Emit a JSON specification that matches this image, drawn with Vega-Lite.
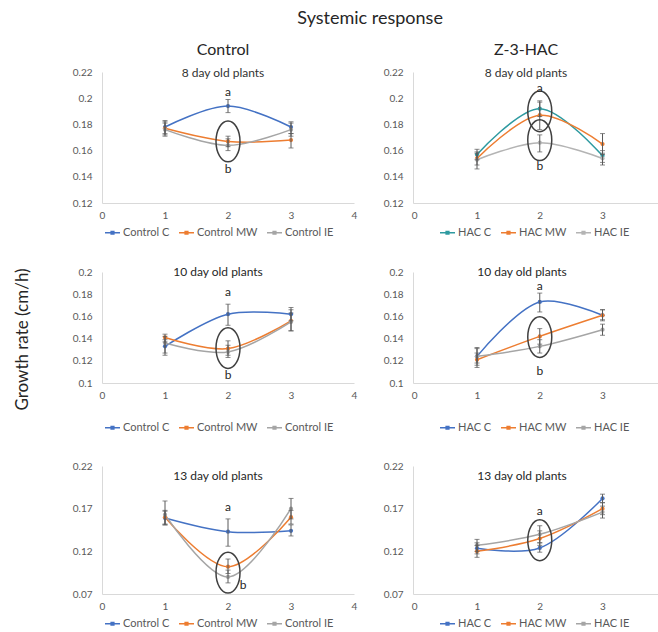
{
  "$schema": "https://vega.github.io/schema/vega-lite/v6.json",
  "background": "white",
  "padding": {"left": 13, "top": 10, "right": 0, "bottom": 0},
  "title": {"text": "Systemic response", "fontSize": 18, "offset": 14, "anchor": "middle", "dx": 34, "color": "#262626", "fontWeight": "normal", "font": "Lato"},
  "datasets": {
    "series": [
      {"panel": "p1", "series": "Control C", "day": 1, "rate": 0.178, "lo": 0.173, "hi": 0.183},
      {"panel": "p1", "series": "Control C", "day": 2, "rate": 0.194, "lo": 0.189, "hi": 0.199},
      {"panel": "p1", "series": "Control C", "day": 3, "rate": 0.178, "lo": 0.173, "hi": 0.182},
      {"panel": "p1", "series": "Control MW", "day": 1, "rate": 0.177, "lo": 0.172, "hi": 0.182},
      {"panel": "p1", "series": "Control MW", "day": 2, "rate": 0.167, "lo": 0.163, "hi": 0.171},
      {"panel": "p1", "series": "Control MW", "day": 3, "rate": 0.168, "lo": 0.162, "hi": 0.173},
      {"panel": "p1", "series": "Control IE", "day": 1, "rate": 0.176, "lo": 0.171, "hi": 0.181},
      {"panel": "p1", "series": "Control IE", "day": 2, "rate": 0.164, "lo": 0.160, "hi": 0.169},
      {"panel": "p1", "series": "Control IE", "day": 3, "rate": 0.176, "lo": 0.171, "hi": 0.181},
      {"panel": "p2", "series": "HAC C", "day": 1, "rate": 0.157, "lo": 0.153, "hi": 0.161},
      {"panel": "p2", "series": "HAC C", "day": 2, "rate": 0.192, "lo": 0.186, "hi": 0.198},
      {"panel": "p2", "series": "HAC C", "day": 3, "rate": 0.156, "lo": 0.151, "hi": 0.160},
      {"panel": "p2", "series": "HAC MW", "day": 1, "rate": 0.154, "lo": 0.149, "hi": 0.159},
      {"panel": "p2", "series": "HAC MW", "day": 2, "rate": 0.187, "lo": 0.176, "hi": 0.197},
      {"panel": "p2", "series": "HAC MW", "day": 3, "rate": 0.165, "lo": 0.157, "hi": 0.173},
      {"panel": "p2", "series": "HAC IE", "day": 1, "rate": 0.153, "lo": 0.146, "hi": 0.158},
      {"panel": "p2", "series": "HAC IE", "day": 2, "rate": 0.166, "lo": 0.159, "hi": 0.172},
      {"panel": "p2", "series": "HAC IE", "day": 3, "rate": 0.154, "lo": 0.149, "hi": 0.158},
      {"panel": "p3", "series": "Control C", "day": 1, "rate": 0.133, "lo": 0.127, "hi": 0.139},
      {"panel": "p3", "series": "Control C", "day": 2, "rate": 0.162, "lo": 0.152, "hi": 0.171},
      {"panel": "p3", "series": "Control C", "day": 3, "rate": 0.162, "lo": 0.156, "hi": 0.168},
      {"panel": "p3", "series": "Control MW", "day": 1, "rate": 0.141, "lo": 0.137, "hi": 0.144},
      {"panel": "p3", "series": "Control MW", "day": 2, "rate": 0.131, "lo": 0.125, "hi": 0.138},
      {"panel": "p3", "series": "Control MW", "day": 3, "rate": 0.156, "lo": 0.147, "hi": 0.166},
      {"panel": "p3", "series": "Control IE", "day": 1, "rate": 0.136, "lo": 0.125, "hi": 0.142},
      {"panel": "p3", "series": "Control IE", "day": 2, "rate": 0.128, "lo": 0.123, "hi": 0.134},
      {"panel": "p3", "series": "Control IE", "day": 3, "rate": 0.155, "lo": 0.147, "hi": 0.163},
      {"panel": "p4", "series": "HAC C", "day": 1, "rate": 0.124, "lo": 0.118, "hi": 0.131},
      {"panel": "p4", "series": "HAC C", "day": 2, "rate": 0.173, "lo": 0.164, "hi": 0.181},
      {"panel": "p4", "series": "HAC C", "day": 3, "rate": 0.161, "lo": 0.157, "hi": 0.166},
      {"panel": "p4", "series": "HAC MW", "day": 1, "rate": 0.121, "lo": 0.114, "hi": 0.127},
      {"panel": "p4", "series": "HAC MW", "day": 2, "rate": 0.142, "lo": 0.135, "hi": 0.149},
      {"panel": "p4", "series": "HAC MW", "day": 3, "rate": 0.161, "lo": 0.156, "hi": 0.166},
      {"panel": "p4", "series": "HAC IE", "day": 1, "rate": 0.124, "lo": 0.116, "hi": 0.132},
      {"panel": "p4", "series": "HAC IE", "day": 2, "rate": 0.133, "lo": 0.127, "hi": 0.139},
      {"panel": "p4", "series": "HAC IE", "day": 3, "rate": 0.148, "lo": 0.143, "hi": 0.153},
      {"panel": "p5", "series": "Control C", "day": 1, "rate": 0.159, "lo": 0.151, "hi": 0.167},
      {"panel": "p5", "series": "Control C", "day": 2, "rate": 0.143, "lo": 0.126, "hi": 0.158},
      {"panel": "p5", "series": "Control C", "day": 3, "rate": 0.144, "lo": 0.138, "hi": 0.151},
      {"panel": "p5", "series": "Control MW", "day": 1, "rate": 0.160, "lo": 0.152, "hi": 0.168},
      {"panel": "p5", "series": "Control MW", "day": 2, "rate": 0.102, "lo": 0.094, "hi": 0.111},
      {"panel": "p5", "series": "Control MW", "day": 3, "rate": 0.160, "lo": 0.152, "hi": 0.168},
      {"panel": "p5", "series": "Control IE", "day": 1, "rate": 0.163, "lo": 0.151, "hi": 0.179},
      {"panel": "p5", "series": "Control IE", "day": 2, "rate": 0.090, "lo": 0.083, "hi": 0.098},
      {"panel": "p5", "series": "Control IE", "day": 3, "rate": 0.170, "lo": 0.158, "hi": 0.182},
      {"panel": "p6", "series": "HAC C", "day": 1, "rate": 0.1235, "lo": 0.117, "hi": 0.130},
      {"panel": "p6", "series": "HAC C", "day": 2, "rate": 0.124, "lo": 0.119, "hi": 0.130},
      {"panel": "p6", "series": "HAC C", "day": 3, "rate": 0.182, "lo": 0.177, "hi": 0.187},
      {"panel": "p6", "series": "HAC MW", "day": 1, "rate": 0.120, "lo": 0.113, "hi": 0.127},
      {"panel": "p6", "series": "HAC MW", "day": 2, "rate": 0.135, "lo": 0.127, "hi": 0.144},
      {"panel": "p6", "series": "HAC MW", "day": 3, "rate": 0.170, "lo": 0.163, "hi": 0.177},
      {"panel": "p6", "series": "HAC IE", "day": 1, "rate": 0.127, "lo": 0.120, "hi": 0.134},
      {"panel": "p6", "series": "HAC IE", "day": 2, "rate": 0.140, "lo": 0.130, "hi": 0.150},
      {"panel": "p6", "series": "HAC IE", "day": 3, "rate": 0.166, "lo": 0.159, "hi": 0.173}
    ],
    "notes": [
      {"panel": "p1", "kind": "ellipse", "day": 2, "val": 0.167, "label": ""},
      {"panel": "p1", "kind": "letter", "day": 2, "val": 0.205, "label": "a"},
      {"panel": "p1", "kind": "letter", "day": 2, "val": 0.146, "label": "b"},
      {"panel": "p2", "kind": "ellipse", "day": 2, "val": 0.190, "label": ""},
      {"panel": "p2", "kind": "ellipse", "day": 2, "val": 0.168, "label": ""},
      {"panel": "p2", "kind": "letter", "day": 2, "val": 0.208, "label": "a"},
      {"panel": "p2", "kind": "letter", "day": 2, "val": 0.148, "label": "b"},
      {"panel": "p3", "kind": "ellipse", "day": 2, "val": 0.1315, "label": ""},
      {"panel": "p3", "kind": "letter", "day": 2, "val": 0.182, "label": "a"},
      {"panel": "p3", "kind": "letter", "day": 2, "val": 0.107, "label": "b"},
      {"panel": "p4", "kind": "ellipse", "day": 2, "val": 0.1414, "label": ""},
      {"panel": "p4", "kind": "letter", "day": 2, "val": 0.187, "label": "a"},
      {"panel": "p4", "kind": "letter", "day": 2, "val": 0.1105, "label": "b"},
      {"panel": "p5", "kind": "ellipse", "day": 2, "val": 0.095, "label": ""},
      {"panel": "p5", "kind": "letter", "day": 2, "val": 0.1715, "label": "a"},
      {"panel": "p5", "kind": "letter", "day": 2.24, "val": 0.0805, "label": "b"},
      {"panel": "p6", "kind": "ellipse", "day": 2, "val": 0.133, "label": ""},
      {"panel": "p6", "kind": "letter", "day": 2, "val": 0.167, "label": "a"}
    ]
  },
  "columns": 2,
  "align": "each",
  "spacing": {"row": 28, "column": 26},
  "resolve": {"scale": {"color": "independent", "x": "independent", "y": "independent"}, "legend": {"color": "independent"}},
  "concat": [
    {
      "width": 252, "height": 131,
      "title": {"text": "Control", "subtitle": "8 day old plants", "fontSize": 16, "subtitleFontSize": 12, "subtitlePadding": 10, "offset": -12, "dx": -5},
      "layer": [
        {"data": {"name": "series"}, "transform": [{"filter": "datum.panel == 'p1'"}],
         "mark": {"type": "line", "interpolate": "catmull-rom", "strokeWidth": 1.5},
         "encoding": {
           "x": {"field": "day", "type": "quantitative", "scale": {"domain": [0, 4], "nice": false}, "axis": {"values": [0, 1, 2, 3, 4], "format": "d", "title": null}},
           "y": {"field": "rate", "type": "quantitative", "scale": {"domain": [0.12, 0.22], "nice": false}, "axis": {"values": [0.12, 0.14, 0.16, 0.18, 0.2, 0.22], "format": "~g", "title": null}},
           "color": {"field": "series", "type": "nominal", "scale": {"domain": ["Control C", "Control MW", "Control IE"], "range": ["#4472C4", "#ED7D31", "#A5A5A5"]}, "legend": {"title": null, "legendX": 2, "legendY": 152}}
         }},
        {"data": {"name": "series"}, "transform": [{"filter": "datum.panel == 'p1'"}],
         "mark": {"type": "point", "filled": true, "size": 18, "opacity": 1},
         "encoding": {
           "x": {"field": "day", "type": "quantitative", "axis": {"values": [0, 1, 2, 3, 4], "format": "d", "title": null}},
           "y": {"field": "rate", "type": "quantitative", "axis": {"values": [0.12, 0.14, 0.16, 0.18, 0.2, 0.22], "format": "~g", "title": null}},
           "color": {"field": "series", "type": "nominal"}}},
        {"data": {"name": "series"}, "transform": [{"filter": "datum.panel == 'p1'"}],
         "mark": {"type": "errorbar", "color": "#595959", "thickness": 1, "ticks": {"size": 5}},
         "encoding": {
           "x": {"field": "day", "type": "quantitative", "axis": {"values": [0, 1, 2, 3, 4], "format": "d", "title": null}},
           "y": {"field": "lo", "type": "quantitative", "axis": {"values": [0.12, 0.14, 0.16, 0.18, 0.2, 0.22], "format": "~g", "title": null}},
           "y2": {"field": "hi"}}},
        {"data": {"name": "notes"}, "transform": [{"filter": "datum.panel == 'p1' && datum.kind == 'ellipse'"}],
         "mark": {"type": "point", "shape": "M0,-1.7A1,1.7 0 1,1 0,1.7A1,1.7 0 1,1 0,-1.7Z", "size": 576, "filled": false, "stroke": "#404040", "strokeWidth": 1.5, "opacity": 1},
         "encoding": {
           "x": {"field": "day", "type": "quantitative", "axis": {"values": [0, 1, 2, 3, 4], "format": "d", "title": null}},
           "y": {"field": "val", "type": "quantitative", "axis": {"values": [0.12, 0.14, 0.16, 0.18, 0.2, 0.22], "format": "~g", "title": null}}}},
        {"data": {"name": "notes"}, "transform": [{"filter": "datum.panel == 'p1' && datum.kind == 'letter'"}],
         "mark": {"type": "text", "fontSize": 12, "color": "#262626"},
         "encoding": {
           "x": {"field": "day", "type": "quantitative", "axis": {"values": [0, 1, 2, 3, 4], "format": "d", "title": null}},
           "y": {"field": "val", "type": "quantitative", "axis": {"values": [0.12, 0.14, 0.16, 0.18, 0.2, 0.22], "format": "~g", "title": null}},
           "text": {"field": "label"}}}
      ]
    },
    {
      "width": 246, "height": 131,
      "title": {"text": "Z-3-HAC", "subtitle": "8 day old plants", "fontSize": 16, "subtitleFontSize": 12, "subtitlePadding": 10, "offset": -12, "dx": -10},
      "layer": [
        {"data": {"name": "series"}, "transform": [{"filter": "datum.panel == 'p2'"}],
         "mark": {"type": "line", "interpolate": "catmull-rom", "strokeWidth": 1.5},
         "encoding": {
           "x": {"field": "day", "type": "quantitative", "scale": {"domain": [-0.02, 3.9], "nice": false, "zero": false}, "axis": {"values": [0, 1, 2, 3], "format": "d", "title": null}},
           "y": {"field": "rate", "type": "quantitative", "scale": {"domain": [0.12, 0.22], "nice": false}, "axis": {"values": [0.12, 0.14, 0.16, 0.18, 0.2, 0.22], "format": "~g", "title": null}},
           "color": {"field": "series", "type": "nominal", "scale": {"domain": ["HAC C", "HAC MW", "HAC IE"], "range": ["#2E9AA0", "#ED7D31", "#B4B4B4"]}, "legend": {"title": null, "legendX": 26, "legendY": 152}}
         }},
        {"data": {"name": "series"}, "transform": [{"filter": "datum.panel == 'p2'"}],
         "mark": {"type": "point", "filled": true, "size": 18, "opacity": 1},
         "encoding": {
           "x": {"field": "day", "type": "quantitative", "axis": {"values": [0, 1, 2, 3], "format": "d", "title": null}},
           "y": {"field": "rate", "type": "quantitative", "axis": {"values": [0.12, 0.14, 0.16, 0.18, 0.2, 0.22], "format": "~g", "title": null}},
           "color": {"field": "series", "type": "nominal"}}},
        {"data": {"name": "series"}, "transform": [{"filter": "datum.panel == 'p2'"}],
         "mark": {"type": "errorbar", "color": "#595959", "thickness": 1, "ticks": {"size": 5}},
         "encoding": {
           "x": {"field": "day", "type": "quantitative", "axis": {"values": [0, 1, 2, 3], "format": "d", "title": null}},
           "y": {"field": "lo", "type": "quantitative", "axis": {"values": [0.12, 0.14, 0.16, 0.18, 0.2, 0.22], "format": "~g", "title": null}},
           "y2": {"field": "hi"}}},
        {"data": {"name": "notes"}, "transform": [{"filter": "datum.panel == 'p2' && datum.kind == 'ellipse'"}],
         "mark": {"type": "point", "shape": "M0,-1.7A1,1.7 0 1,1 0,1.7A1,1.7 0 1,1 0,-1.7Z", "size": 576, "filled": false, "stroke": "#404040", "strokeWidth": 1.5, "opacity": 1},
         "encoding": {
           "x": {"field": "day", "type": "quantitative", "axis": {"values": [0, 1, 2, 3], "format": "d", "title": null}},
           "y": {"field": "val", "type": "quantitative", "axis": {"values": [0.12, 0.14, 0.16, 0.18, 0.2, 0.22], "format": "~g", "title": null}}}},
        {"data": {"name": "notes"}, "transform": [{"filter": "datum.panel == 'p2' && datum.kind == 'letter'"}],
         "mark": {"type": "text", "fontSize": 12, "color": "#262626"},
         "encoding": {
           "x": {"field": "day", "type": "quantitative", "axis": {"values": [0, 1, 2, 3], "format": "d", "title": null}},
           "y": {"field": "val", "type": "quantitative", "axis": {"values": [0.12, 0.14, 0.16, 0.18, 0.2, 0.22], "format": "~g", "title": null}},
           "text": {"field": "label"}}}
      ]
    },
    {
      "width": 252, "height": 111,
      "title": {"text": "10 day old plants", "fontSize": 12, "offset": -12, "dx": -10},
      "layer": [
        {"data": {"name": "series"}, "transform": [{"filter": "datum.panel == 'p3'"}],
         "mark": {"type": "line", "interpolate": "catmull-rom", "strokeWidth": 1.5},
         "encoding": {
           "x": {"field": "day", "type": "quantitative", "scale": {"domain": [0, 4], "nice": false}, "axis": {"values": [0, 1, 2, 3, 4], "format": "d", "title": null}},
           "y": {"field": "rate", "type": "quantitative", "scale": {"domain": [0.1, 0.2], "nice": false}, "axis": {"values": [0.1, 0.12, 0.14, 0.16, 0.18, 0.2], "format": "~g", "title": "Growth rate (cm/h)", "titleFontSize": 17, "titleFontWeight": "normal", "titleColor": "#262626", "titlePadding": 41, "titleY": 67}},
           "color": {"field": "series", "type": "nominal", "scale": {"domain": ["Control C", "Control MW", "Control IE"], "range": ["#4472C4", "#ED7D31", "#A5A5A5"]}, "legend": {"title": null, "legendX": 2, "legendY": 147}}
         }},
        {"data": {"name": "series"}, "transform": [{"filter": "datum.panel == 'p3'"}],
         "mark": {"type": "point", "filled": true, "size": 18, "opacity": 1},
         "encoding": {
           "x": {"field": "day", "type": "quantitative", "axis": {"values": [0, 1, 2, 3, 4], "format": "d", "title": null}},
           "y": {"field": "rate", "type": "quantitative", "axis": {"values": [0.1, 0.12, 0.14, 0.16, 0.18, 0.2], "format": "~g", "title": "Growth rate (cm/h)", "titleFontSize": 17, "titleFontWeight": "normal", "titleColor": "#262626", "titlePadding": 41, "titleY": 67}},
           "color": {"field": "series", "type": "nominal"}}},
        {"data": {"name": "series"}, "transform": [{"filter": "datum.panel == 'p3'"}],
         "mark": {"type": "errorbar", "color": "#595959", "thickness": 1, "ticks": {"size": 5}},
         "encoding": {
           "x": {"field": "day", "type": "quantitative", "axis": {"values": [0, 1, 2, 3, 4], "format": "d", "title": null}},
           "y": {"field": "lo", "type": "quantitative", "axis": {"values": [0.1, 0.12, 0.14, 0.16, 0.18, 0.2], "format": "~g", "title": "Growth rate (cm/h)", "titleFontSize": 17, "titleFontWeight": "normal", "titleColor": "#262626", "titlePadding": 41, "titleY": 67}},
           "y2": {"field": "hi"}}},
        {"data": {"name": "notes"}, "transform": [{"filter": "datum.panel == 'p3' && datum.kind == 'ellipse'"}],
         "mark": {"type": "point", "shape": "M0,-1.7A1,1.7 0 1,1 0,1.7A1,1.7 0 1,1 0,-1.7Z", "size": 576, "filled": false, "stroke": "#404040", "strokeWidth": 1.5, "opacity": 1},
         "encoding": {
           "x": {"field": "day", "type": "quantitative", "axis": {"values": [0, 1, 2, 3, 4], "format": "d", "title": null}},
           "y": {"field": "val", "type": "quantitative", "axis": {"values": [0.1, 0.12, 0.14, 0.16, 0.18, 0.2], "format": "~g", "title": "Growth rate (cm/h)", "titleFontSize": 17, "titleFontWeight": "normal", "titleColor": "#262626", "titlePadding": 41, "titleY": 67}}}},
        {"data": {"name": "notes"}, "transform": [{"filter": "datum.panel == 'p3' && datum.kind == 'letter'"}],
         "mark": {"type": "text", "fontSize": 12, "color": "#262626"},
         "encoding": {
           "x": {"field": "day", "type": "quantitative", "axis": {"values": [0, 1, 2, 3, 4], "format": "d", "title": null}},
           "y": {"field": "val", "type": "quantitative", "axis": {"values": [0.1, 0.12, 0.14, 0.16, 0.18, 0.2], "format": "~g", "title": "Growth rate (cm/h)", "titleFontSize": 17, "titleFontWeight": "normal", "titleColor": "#262626", "titlePadding": 41, "titleY": 67}},
           "text": {"field": "label"}}}
      ]
    },
    {
      "width": 246, "height": 111,
      "title": {"text": "10 day old plants", "fontSize": 12, "offset": -12, "dx": -14},
      "layer": [
        {"data": {"name": "series"}, "transform": [{"filter": "datum.panel == 'p4'"}],
         "mark": {"type": "line", "interpolate": "catmull-rom", "strokeWidth": 1.5},
         "encoding": {
           "x": {"field": "day", "type": "quantitative", "scale": {"domain": [-0.02, 3.9], "nice": false, "zero": false}, "axis": {"values": [0, 1, 2, 3], "format": "d", "title": null}},
           "y": {"field": "rate", "type": "quantitative", "scale": {"domain": [0.1, 0.2], "nice": false}, "axis": {"values": [0.1, 0.12, 0.14, 0.16, 0.18, 0.2], "format": "~g", "title": null}},
           "color": {"field": "series", "type": "nominal", "scale": {"domain": ["HAC C", "HAC MW", "HAC IE"], "range": ["#4472C4", "#ED7D31", "#A5A5A5"]}, "legend": {"title": null, "legendX": 26, "legendY": 147}}
         }},
        {"data": {"name": "series"}, "transform": [{"filter": "datum.panel == 'p4'"}],
         "mark": {"type": "point", "filled": true, "size": 18, "opacity": 1},
         "encoding": {
           "x": {"field": "day", "type": "quantitative", "axis": {"values": [0, 1, 2, 3], "format": "d", "title": null}},
           "y": {"field": "rate", "type": "quantitative", "axis": {"values": [0.1, 0.12, 0.14, 0.16, 0.18, 0.2], "format": "~g", "title": null}},
           "color": {"field": "series", "type": "nominal"}}},
        {"data": {"name": "series"}, "transform": [{"filter": "datum.panel == 'p4'"}],
         "mark": {"type": "errorbar", "color": "#595959", "thickness": 1, "ticks": {"size": 5}},
         "encoding": {
           "x": {"field": "day", "type": "quantitative", "axis": {"values": [0, 1, 2, 3], "format": "d", "title": null}},
           "y": {"field": "lo", "type": "quantitative", "axis": {"values": [0.1, 0.12, 0.14, 0.16, 0.18, 0.2], "format": "~g", "title": null}},
           "y2": {"field": "hi"}}},
        {"data": {"name": "notes"}, "transform": [{"filter": "datum.panel == 'p4' && datum.kind == 'ellipse'"}],
         "mark": {"type": "point", "shape": "M0,-1.7A1,1.7 0 1,1 0,1.7A1,1.7 0 1,1 0,-1.7Z", "size": 576, "filled": false, "stroke": "#404040", "strokeWidth": 1.5, "opacity": 1},
         "encoding": {
           "x": {"field": "day", "type": "quantitative", "axis": {"values": [0, 1, 2, 3], "format": "d", "title": null}},
           "y": {"field": "val", "type": "quantitative", "axis": {"values": [0.1, 0.12, 0.14, 0.16, 0.18, 0.2], "format": "~g", "title": null}}}},
        {"data": {"name": "notes"}, "transform": [{"filter": "datum.panel == 'p4' && datum.kind == 'letter'"}],
         "mark": {"type": "text", "fontSize": 12, "color": "#262626"},
         "encoding": {
           "x": {"field": "day", "type": "quantitative", "axis": {"values": [0, 1, 2, 3], "format": "d", "title": null}},
           "y": {"field": "val", "type": "quantitative", "axis": {"values": [0.1, 0.12, 0.14, 0.16, 0.18, 0.2], "format": "~g", "title": null}},
           "text": {"field": "label"}}}
      ]
    },
    {
      "width": 252, "height": 128,
      "title": {"text": "13 day old plants", "fontSize": 12, "offset": -22, "dx": -10},
      "layer": [
        {"data": {"name": "series"}, "transform": [{"filter": "datum.panel == 'p5'"}],
         "mark": {"type": "line", "interpolate": "catmull-rom", "strokeWidth": 1.5},
         "encoding": {
           "x": {"field": "day", "type": "quantitative", "scale": {"domain": [0, 4], "nice": false}, "axis": {"values": [0, 1, 2, 3, 4], "format": "d", "title": null}},
           "y": {"field": "rate", "type": "quantitative", "scale": {"domain": [0.07, 0.22], "nice": false}, "axis": {"values": [0.07, 0.12, 0.17, 0.22], "format": "~g", "title": null}},
           "color": {"field": "series", "type": "nominal", "scale": {"domain": ["Control C", "Control MW", "Control IE"], "range": ["#4472C4", "#ED7D31", "#A5A5A5"]}, "legend": {"title": null, "legendX": 2, "legendY": 149}}
         }},
        {"data": {"name": "series"}, "transform": [{"filter": "datum.panel == 'p5'"}],
         "mark": {"type": "point", "filled": true, "size": 18, "opacity": 1},
         "encoding": {
           "x": {"field": "day", "type": "quantitative", "axis": {"values": [0, 1, 2, 3, 4], "format": "d", "title": null}},
           "y": {"field": "rate", "type": "quantitative", "axis": {"values": [0.07, 0.12, 0.17, 0.22], "format": "~g", "title": null}},
           "color": {"field": "series", "type": "nominal"}}},
        {"data": {"name": "series"}, "transform": [{"filter": "datum.panel == 'p5'"}],
         "mark": {"type": "errorbar", "color": "#595959", "thickness": 1, "ticks": {"size": 5}},
         "encoding": {
           "x": {"field": "day", "type": "quantitative", "axis": {"values": [0, 1, 2, 3, 4], "format": "d", "title": null}},
           "y": {"field": "lo", "type": "quantitative", "axis": {"values": [0.07, 0.12, 0.17, 0.22], "format": "~g", "title": null}},
           "y2": {"field": "hi"}}},
        {"data": {"name": "notes"}, "transform": [{"filter": "datum.panel == 'p5' && datum.kind == 'ellipse'"}],
         "mark": {"type": "point", "shape": "M0,-1.7A1,1.7 0 1,1 0,1.7A1,1.7 0 1,1 0,-1.7Z", "size": 576, "filled": false, "stroke": "#404040", "strokeWidth": 1.5, "opacity": 1},
         "encoding": {
           "x": {"field": "day", "type": "quantitative", "axis": {"values": [0, 1, 2, 3, 4], "format": "d", "title": null}},
           "y": {"field": "val", "type": "quantitative", "axis": {"values": [0.07, 0.12, 0.17, 0.22], "format": "~g", "title": null}}}},
        {"data": {"name": "notes"}, "transform": [{"filter": "datum.panel == 'p5' && datum.kind == 'letter'"}],
         "mark": {"type": "text", "fontSize": 12, "color": "#262626"},
         "encoding": {
           "x": {"field": "day", "type": "quantitative", "axis": {"values": [0, 1, 2, 3, 4], "format": "d", "title": null}},
           "y": {"field": "val", "type": "quantitative", "axis": {"values": [0.07, 0.12, 0.17, 0.22], "format": "~g", "title": null}},
           "text": {"field": "label"}}}
      ]
    },
    {
      "width": 246, "height": 128,
      "title": {"text": "13 day old plants", "fontSize": 12, "offset": -22, "dx": -14},
      "layer": [
        {"data": {"name": "series"}, "transform": [{"filter": "datum.panel == 'p6'"}],
         "mark": {"type": "line", "interpolate": "catmull-rom", "strokeWidth": 1.5},
         "encoding": {
           "x": {"field": "day", "type": "quantitative", "scale": {"domain": [-0.02, 3.9], "nice": false, "zero": false}, "axis": {"values": [0, 1, 2, 3], "format": "d", "title": null}},
           "y": {"field": "rate", "type": "quantitative", "scale": {"domain": [0.07, 0.22], "nice": false}, "axis": {"values": [0.07, 0.12, 0.17, 0.22], "format": "~g", "title": null}},
           "color": {"field": "series", "type": "nominal", "scale": {"domain": ["HAC C", "HAC MW", "HAC IE"], "range": ["#4472C4", "#ED7D31", "#A5A5A5"]}, "legend": {"title": null, "legendX": 26, "legendY": 149}}
         }},
        {"data": {"name": "series"}, "transform": [{"filter": "datum.panel == 'p6'"}],
         "mark": {"type": "point", "filled": true, "size": 18, "opacity": 1},
         "encoding": {
           "x": {"field": "day", "type": "quantitative", "axis": {"values": [0, 1, 2, 3], "format": "d", "title": null}},
           "y": {"field": "rate", "type": "quantitative", "axis": {"values": [0.07, 0.12, 0.17, 0.22], "format": "~g", "title": null}},
           "color": {"field": "series", "type": "nominal"}}},
        {"data": {"name": "series"}, "transform": [{"filter": "datum.panel == 'p6'"}],
         "mark": {"type": "errorbar", "color": "#595959", "thickness": 1, "ticks": {"size": 5}},
         "encoding": {
           "x": {"field": "day", "type": "quantitative", "axis": {"values": [0, 1, 2, 3], "format": "d", "title": null}},
           "y": {"field": "lo", "type": "quantitative", "axis": {"values": [0.07, 0.12, 0.17, 0.22], "format": "~g", "title": null}},
           "y2": {"field": "hi"}}},
        {"data": {"name": "notes"}, "transform": [{"filter": "datum.panel == 'p6' && datum.kind == 'ellipse'"}],
         "mark": {"type": "point", "shape": "M0,-1.7A1,1.7 0 1,1 0,1.7A1,1.7 0 1,1 0,-1.7Z", "size": 576, "filled": false, "stroke": "#404040", "strokeWidth": 1.5, "opacity": 1},
         "encoding": {
           "x": {"field": "day", "type": "quantitative", "axis": {"values": [0, 1, 2, 3], "format": "d", "title": null}},
           "y": {"field": "val", "type": "quantitative", "axis": {"values": [0.07, 0.12, 0.17, 0.22], "format": "~g", "title": null}}}},
        {"data": {"name": "notes"}, "transform": [{"filter": "datum.panel == 'p6' && datum.kind == 'letter'"}],
         "mark": {"type": "text", "fontSize": 12, "color": "#262626"},
         "encoding": {
           "x": {"field": "day", "type": "quantitative", "axis": {"values": [0, 1, 2, 3], "format": "d", "title": null}},
           "y": {"field": "val", "type": "quantitative", "axis": {"values": [0.07, 0.12, 0.17, 0.22], "format": "~g", "title": null}},
           "text": {"field": "label"}}}
      ]
    }
  ],
  "config": {
    "font": "Lato",
    "view": {"stroke": null},
    "axis": {"grid": false, "ticks": false, "tickSize": 0, "domainColor": "#D9D9D9", "labelColor": "#595959", "labelFontSize": 10, "labelFont": "Lato", "titleFont": "Lato", "labelOverlap": false, "labelFlush": false},
    "axisX": {"labelPadding": 7},
    "axisY": {"labelPadding": 10},
    "title": {"font": "Lato", "fontWeight": "normal", "color": "#262626", "subtitleFont": "Lato", "subtitleColor": "#333333", "anchor": "middle"},
    "legend": {"orient": "none", "direction": "horizontal", "symbolType": "M-1,0H1M-0.18,-0.18H0.18V0.18H-0.18Z", "symbolSize": 225, "symbolStrokeWidth": 1.5, "labelFontSize": 11, "labelColor": "#595959", "labelFont": "Lato", "columnPadding": 6, "labelOffset": 2, "padding": 0}
  }
}
